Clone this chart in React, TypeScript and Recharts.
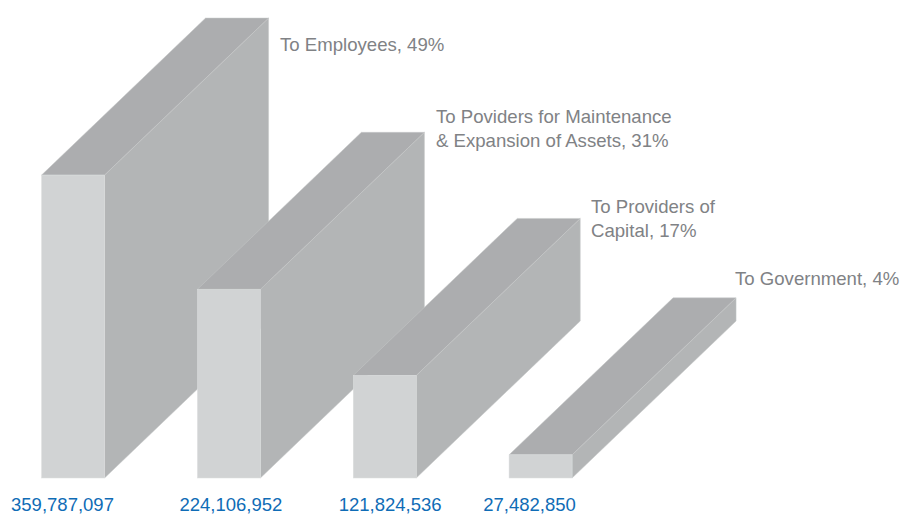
import { BarChart, Bar, XAxis, YAxis, LabelList } from 'recharts';

const amounts = [359787097, 224106952, 121824536, 27482850];
const amountLabels = ['359,787,097', '224,106,952', '121,824,536', '27,482,850'];
const recipients = [
  ['To Employees, 49%'],
  ['To Poviders for Maintenance', '& Expansion of Assets, 31%'],
  ['To Providers of', 'Capital, 17%'],
  ['To Government, 4%'],
];

const rows = amounts.map((amount, i) => ({
  amount,
  amountLabel: amountLabels[i],
  recipient: recipients[i],
}));

// depth of the extruded block, going up and to the right
const DEPTH_X = 164;
const DEPTH_Y = 157;

// nudges for the amounts under the bars and anchors for the recipient captions
const tickNudge = [-11, 1.5, 5, -11.5];
const captionAt = [
  { x: 280, y: 51 },
  { x: 436, y: 123 },
  { x: 591, y: 213 },
  { x: 735, y: 285 },
];

const SANS = '"Liberation Sans", Arial, sans-serif';

function Block(props: any) {
  const { x, y, width, height } = props;
  const right = x + width;
  const bottom = y + height;
  const edge = { stroke: '#c6c8c9', strokeWidth: 0.5, strokeLinejoin: 'round' as const };
  return (
    <g>
      <polygon
        points={`${right},${y} ${right + DEPTH_X},${y - DEPTH_Y} ${right + DEPTH_X},${bottom - DEPTH_Y} ${right},${bottom}`}
        fill="#b3b5b6"
        {...edge}
      />
      <polygon
        points={`${x},${y} ${x + DEPTH_X},${y - DEPTH_Y} ${right + DEPTH_X},${y - DEPTH_Y} ${right},${y}`}
        fill="#acadaf"
        {...edge}
      />
      <rect x={x} y={y} width={width} height={height} fill="#d1d3d4" stroke="#dcddde" strokeWidth={0.5} />
    </g>
  );
}

function AmountTick({ x, y, index, payload }: any) {
  return (
    <text
      x={x + tickNudge[index]}
      y={y + 25}
      textAnchor="middle"
      fontFamily={SANS}
      fontSize={18.5}
      fill="#0f6cb6"
    >
      {payload.value}
    </text>
  );
}

function Caption({ index, value }: any) {
  const at = captionAt[index];
  return (
    <text fontFamily={SANS} fontSize={18.6} fill="#808285">
      {value.map((line: string, i: number) => (
        <tspan key={line} x={at.x} y={at.y + i * 23.5}>
          {line}
        </tspan>
      ))}
    </text>
  );
}

export default function App() {
  return (
    <div style={{ position: 'absolute', left: 0, top: 0 }}>
      <BarChart
        width={903}
        height={514}
        data={rows}
        margin={{ top: 57, right: 0, bottom: 0, left: 0 }}
      >
        <XAxis
          dataKey="amountLabel"
          scale="point"
          padding={{ left: 73.5, right: 362 }}
          height={36}
          axisLine={false}
          tickLine={false}
          interval={0}
          tick={<AmountTick />}
        />
        <YAxis hide domain={[0, 500000000]} />
        <Bar dataKey="amount" barSize={63} shape={<Block />} isAnimationActive={false}>
          <LabelList dataKey="recipient" content={<Caption />} />
        </Bar>
      </BarChart>
    </div>
  );
}
